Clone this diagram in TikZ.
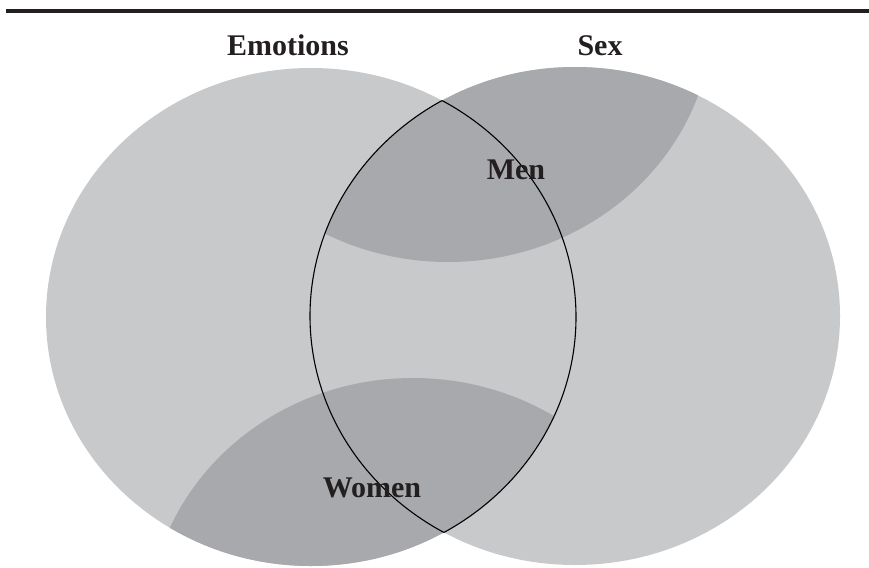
\documentclass[tikz,border=0pt]{standalone}
\usepackage{fontspec}
\setmainfont{Liberation Serif}
\usepackage{xcolor}
\usepackage{tikz}
\definecolor{setlight}{HTML}{C8C9CB}
\definecolor{setdark}{HTML}{A8A9AC}
\definecolor{labelink}{HTML}{231F20}
\tikzset{
  setshape/.style={x radius=265pt, y radius=249pt},
  lightset/.style={fill=setlight},
  darkset/.style={fill=setdark},
  lensline/.style={draw=black, line width=1.1pt},
  rulebar/.style={draw=labelink, line width=4pt},
  setlabel/.style={font=\bfseries\fontsize{30}{36}\selectfont, text=labelink, anchor=base, inner sep=0pt}
}

\begin{document}
\begin{tikzpicture}[x=1pt, y=-1pt]
  \useasboundingbox (0,0) rectangle (869,567);
  % centres of the two sets and of the two shaded bands
  \coordinate (emo) at (311,317);
  \coordinate (sexc) at (575,316);
  \coordinate (menc) at (448,13);
  \coordinate (womenc) at (413,627);
  % rule across the top
  \coordinate (ruleL) at (6,11);
  \coordinate (ruleR) at (869,11);
  \draw[rulebar] (ruleL) -- (ruleR);
  % the two sets
  \fill[lightset] (emo) ellipse [setshape];
  \fill[lightset] (sexc) ellipse [setshape];
  % shaded bands
  \begin{scope}
    \clip (sexc) ellipse [setshape];
    \fill[darkset] (menc) ellipse [setshape];
  \end{scope}
  \begin{scope}
    \clip (emo) ellipse [setshape];
    \fill[darkset] (womenc) ellipse [setshape];
  \end{scope}
  % outline of the overlap
  \begin{scope}
    \clip (emo) ellipse [setshape];
    \draw[lensline] (sexc) ellipse [setshape];
  \end{scope}
  \begin{scope}
    \clip (sexc) ellipse [setshape];
    \draw[lensline] (emo) ellipse [setshape];
  \end{scope}
  % labels
  \node[setlabel] (emotions) at (288,56) {Emotions};
  \node[setlabel] (sex) at (600,56) {Sex};
  \node[setlabel] (men) at (516,179) {Men};
  \node[setlabel] (women) at (372,497) {Women};
\end{tikzpicture}
\end{document}
